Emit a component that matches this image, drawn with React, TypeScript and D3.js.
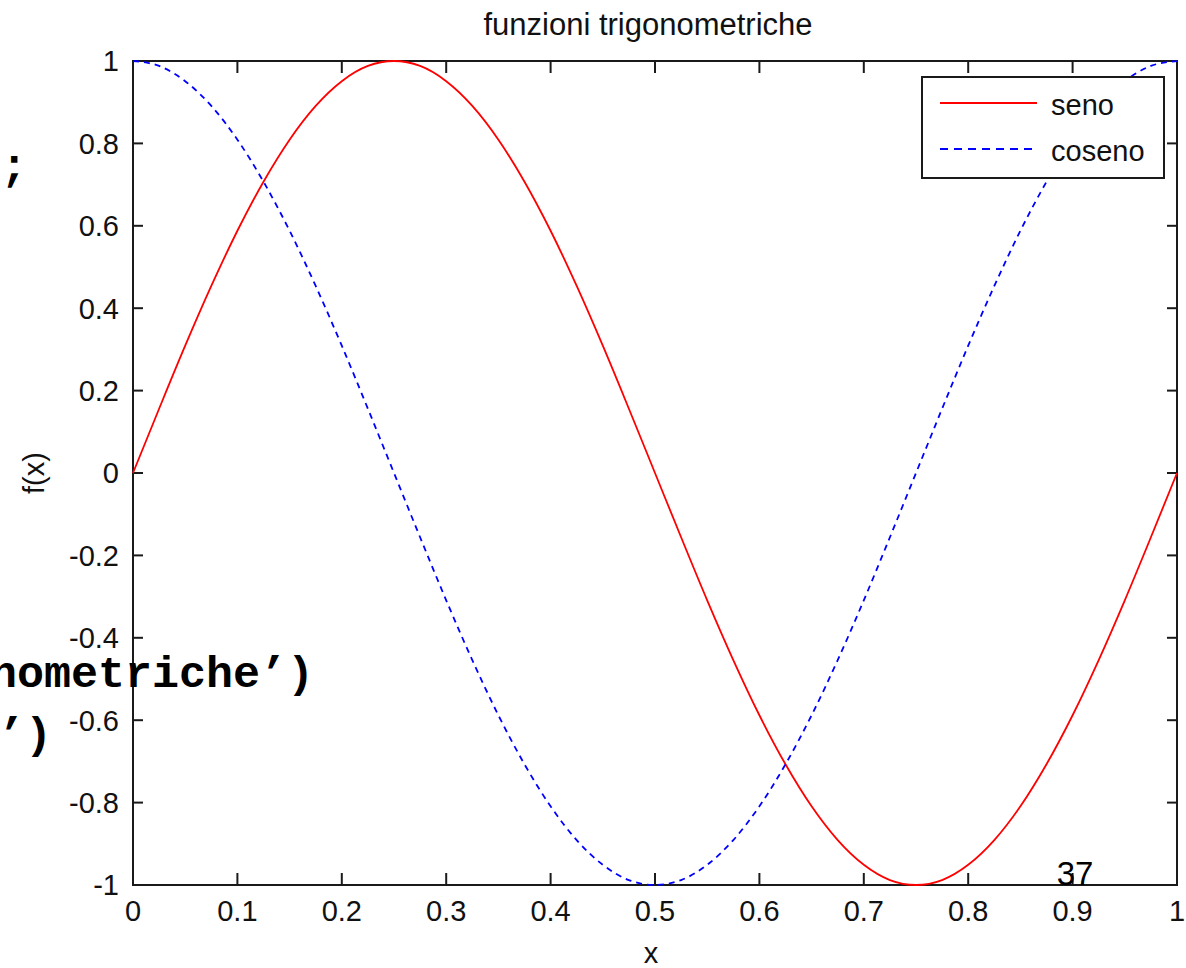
import React from "react";
import * as d3 from "d3";

const xValues = [0, 0.025, 0.05, 0.075, 0.1, 0.125, 0.15, 0.175, 0.2, 0.225, 0.25, 0.275, 0.3, 0.325, 0.35, 0.375, 0.4, 0.425, 0.45, 0.475, 0.5, 0.525, 0.55, 0.575, 0.6, 0.625, 0.65, 0.675, 0.7, 0.725, 0.75, 0.775, 0.8, 0.825, 0.85, 0.875, 0.9, 0.925, 0.95, 0.975, 1];
const senoValues = [0, 0.156, 0.309, 0.454, 0.588, 0.707, 0.809, 0.891, 0.951, 0.988, 1, 0.988, 0.951, 0.891, 0.809, 0.707, 0.588, 0.454, 0.309, 0.156, 0, -0.156, -0.309, -0.454, -0.588, -0.707, -0.809, -0.891, -0.951, -0.988, -1, -0.988, -0.951, -0.891, -0.809, -0.707, -0.588, -0.454, -0.309, -0.156, 0];
const cosenoValues = [1, 0.988, 0.951, 0.891, 0.809, 0.707, 0.588, 0.454, 0.309, 0.156, 0, -0.156, -0.309, -0.454, -0.588, -0.707, -0.809, -0.891, -0.951, -0.988, -1, -0.988, -0.951, -0.891, -0.809, -0.707, -0.588, -0.454, -0.309, -0.156, 0, 0.156, 0.309, 0.454, 0.588, 0.707, 0.809, 0.891, 0.951, 0.988, 1];
const xTicks = [0, 0.1, 0.2, 0.3, 0.4, 0.5, 0.6, 0.7, 0.8, 0.9, 1];
const xTickLabels = ["0", "0.1", "0.2", "0.3", "0.4", "0.5", "0.6", "0.7", "0.8", "0.9", "1"];
const yTicks = [-1, -0.8, -0.6, -0.4, -0.2, 0, 0.2, 0.4, 0.6, 0.8, 1];
const yTickLabels = ["-1", "-0.8", "-0.6", "-0.4", "-0.2", "0", "0.2", "0.4", "0.6", "0.8", "1"];
const seriesNames = ["seno", "coseno"];
const titleText = "funzioni trigonometriche";
const xLabelText = "x";
const yLabelText = "f(x)";
const slideLines = [";", "nometriche\u2019)", "\u2019)"];
const pageNumber = "37";

const W = 1186;
const H = 968;
const L = 133, R = 1177, T = 61, B = 885;
const SANS = "'Liberation Sans', Arial, Helvetica, sans-serif";
const MONO = "'Liberation Mono', 'Courier New', monospace";

export default function App() {
  const x = d3.scaleLinear().domain([0, 1]).range([L, R]);
  const y = d3.scaleLinear().domain([-1, 1]).range([B, T]);
  const pts = (vals: number[]) => xValues.map((xv, i) => [xv, vals[i]] as [number, number]);
  const line = d3
    .line<[number, number]>()
    .x((d) => x(d[0]))
    .y((d) => y(d[1]))
    .curve(d3.curveMonotoneX);
  const axisColor = "#1a1a1a";
  const fs = 29;
  return (
    <svg
      width={W}
      height={H}
      style={{ position: "absolute", left: 0, top: 0, background: "#fff" }}
      fontFamily={SANS}
    >
      <rect x={0} y={0} width={W} height={H} fill="#fff" />
      {/* title */}
      <text x={648} y={35} fontSize={31} textAnchor="middle" fill="#111">
        {titleText}
      </text>
      {/* ticks */}
      {xTicks.map((t, i) => (
        <g key={"xt" + i}>
          <line x1={x(t)} x2={x(t)} y1={B} y2={B - 12} stroke={axisColor} strokeWidth={2} />
          <line x1={x(t)} x2={x(t)} y1={T} y2={T + 12} stroke={axisColor} strokeWidth={2} />
          <text x={x(t)} y={921} fontSize={fs} textAnchor="middle" fill="#111">
            {xTickLabels[i]}
          </text>
        </g>
      ))}
      {yTicks.map((t, i) => (
        <g key={"yt" + i}>
          <line x1={L} x2={L + 10} y1={y(t)} y2={y(t)} stroke={axisColor} strokeWidth={2} />
          <line x1={R} x2={R - 10} y1={y(t)} y2={y(t)} stroke={axisColor} strokeWidth={2} />
          <text x={119} y={y(t)} dy="0.36em" fontSize={fs} textAnchor="end" fill="#111">
            {yTickLabels[i]}
          </text>
        </g>
      ))}
      {/* box */}
      <rect x={L} y={T} width={R - L} height={B - T} fill="none" stroke={axisColor} strokeWidth={2} />
      {/* axis labels */}
      <text x={651} y={963} fontSize={fs} textAnchor="middle" fill="#111">
        {xLabelText}
      </text>
      <text
        transform={`translate(44, ${(T + B) / 2}) rotate(-90)`}
        fontSize={fs}
        textAnchor="middle"
        fill="#111"
      >
        {yLabelText}
      </text>
      {/* series */}
      <path d={line(pts(senoValues)) || ""} fill="none" stroke="#ff0000" strokeWidth={1.8} />
      <path
        d={line(pts(cosenoValues)) || ""}
        fill="none"
        stroke="#0000ff"
        strokeWidth={1.8}
        strokeDasharray="6,5"
      />
      {/* legend */}
      <rect x={922} y={77} width={242} height={101} fill="#fff" stroke={axisColor} strokeWidth={2} />
      <line x1={940} x2={1037} y1={103} y2={103} stroke="#ff0000" strokeWidth={1.8} />
      <text x={1051} y={115} fontSize={fs} fill="#111">
        {seriesNames[0]}
      </text>
      <line x1={940} x2={1037} y1={149} y2={149} stroke="#0000ff" strokeWidth={1.8} strokeDasharray="8,6" />
      <text x={1051} y={161} fontSize={fs} fill="#111">
        {seriesNames[1]}
      </text>
      {/* slide overlay text */}
      <text x={14} y={180} fontSize={45} fontWeight="bold" fontFamily={MONO} textAnchor="middle" fill="#000">
        {slideLines[0]}
      </text>
      <text x={314} y={687} fontSize={45} fontWeight="bold" fontFamily={MONO} textAnchor="end" fill="#000">
        {slideLines[1]}
      </text>
      <text x={52} y={748} fontSize={45} fontWeight="bold" fontFamily={MONO} textAnchor="end" fill="#000">
        {slideLines[2]}
      </text>
      <text x={1075} y={885} fontSize={33} textAnchor="middle" fill="#000">
        {pageNumber}
      </text>
    </svg>
  );
}
